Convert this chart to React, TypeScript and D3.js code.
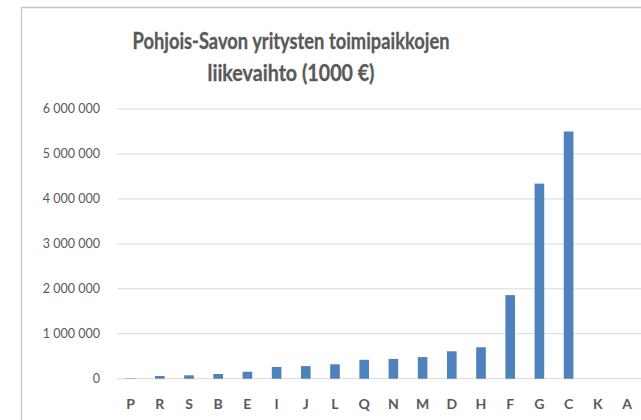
import * as d3 from "d3";

const categories = ["P", "R", "S", "B", "E", "I", "J", "L", "Q", "N", "M", "D", "H", "F", "G", "C", "K", "A"];
const revenue = [10000, 60000, 75000, 105000, 155000, 260000, 280000, 320000, 420000, 440000, 480000, 610000, 700000, 1860000, 4340000, 5500000, 0, 0];
const yTicks = [0, 1000000, 2000000, 3000000, 4000000, 5000000, 6000000];
const titleLines = ["Pohjois-Savon yritysten toimipaikkojen", "liikevaihto (1000 €)"];

const width = 641;
const height = 420;
const font = "Lato, 'Open Sans', sans-serif";
const textColor = "#595959";

function App() {
  const x = d3
    .scaleBand()
    .domain(categories)
    .range([116, 116 + 18 * 29.2])
    .paddingInner(0.67)
    .paddingOuter(0.335);

  const y = d3.scaleLinear().domain([0, 6000000]).range([378.7, 109]);

  // finnish style thousands: space separated
  const fmt = (v: number) => d3.format(",")(v).replace(/,/g, " ");

  return (
    <svg
      width={width}
      height={height}
      viewBox={`0 0 ${width} ${height}`}
      style={{ position: "absolute", left: 0, top: 0, background: "#fff" }}
    >
      {/* chart frame */}
      <path d={`M21.5,${height} V7.5 H${width}`} fill="none" stroke="#c6c6c6" strokeWidth={1.3} />

      {titleLines.map((t, i) => (
        <text
          key={t}
          x={291}
          y={49 + i * 32}
          textAnchor="middle"
          fontFamily={font}
          fontWeight="bold"
          fontSize={22}
          fill={textColor}
          stroke={textColor}
          strokeWidth={0.3}
          textLength={i === 0 ? 317 : 167}
          lengthAdjust="spacingAndGlyphs"
        >
          {t}
        </text>
      ))}

      {yTicks.map((t) => (
        <g key={t}>
          <line x1={117} x2={width} y1={y(t)} y2={y(t)} stroke="#d9d9d9" strokeWidth={1} />
          <text
            x={100}
            y={y(t)}
            dy="0.35em"
            textAnchor="end"
            fontFamily={font}
            fontSize={12.5}
            fill={textColor}
          >
            {fmt(t)}
          </text>
        </g>
      ))}

      {categories.map((c, i) => (
        <rect
          key={c}
          x={x(c)}
          y={y(revenue[i])}
          width={x.bandwidth()}
          height={y(0) - y(revenue[i])}
          fill="#4f81bd"
        />
      ))}

      {categories.map((c) => (
        <text
          key={c}
          x={(x(c) ?? 0) + x.bandwidth() / 2}
          y={404}
          dy="0.35em"
          textAnchor="middle"
          fontFamily={font}
          fontWeight="bold"
          fontSize={14}
          fill={textColor}
        >
          {c}
        </text>
      ))}
    </svg>
  );
}

export default App;
